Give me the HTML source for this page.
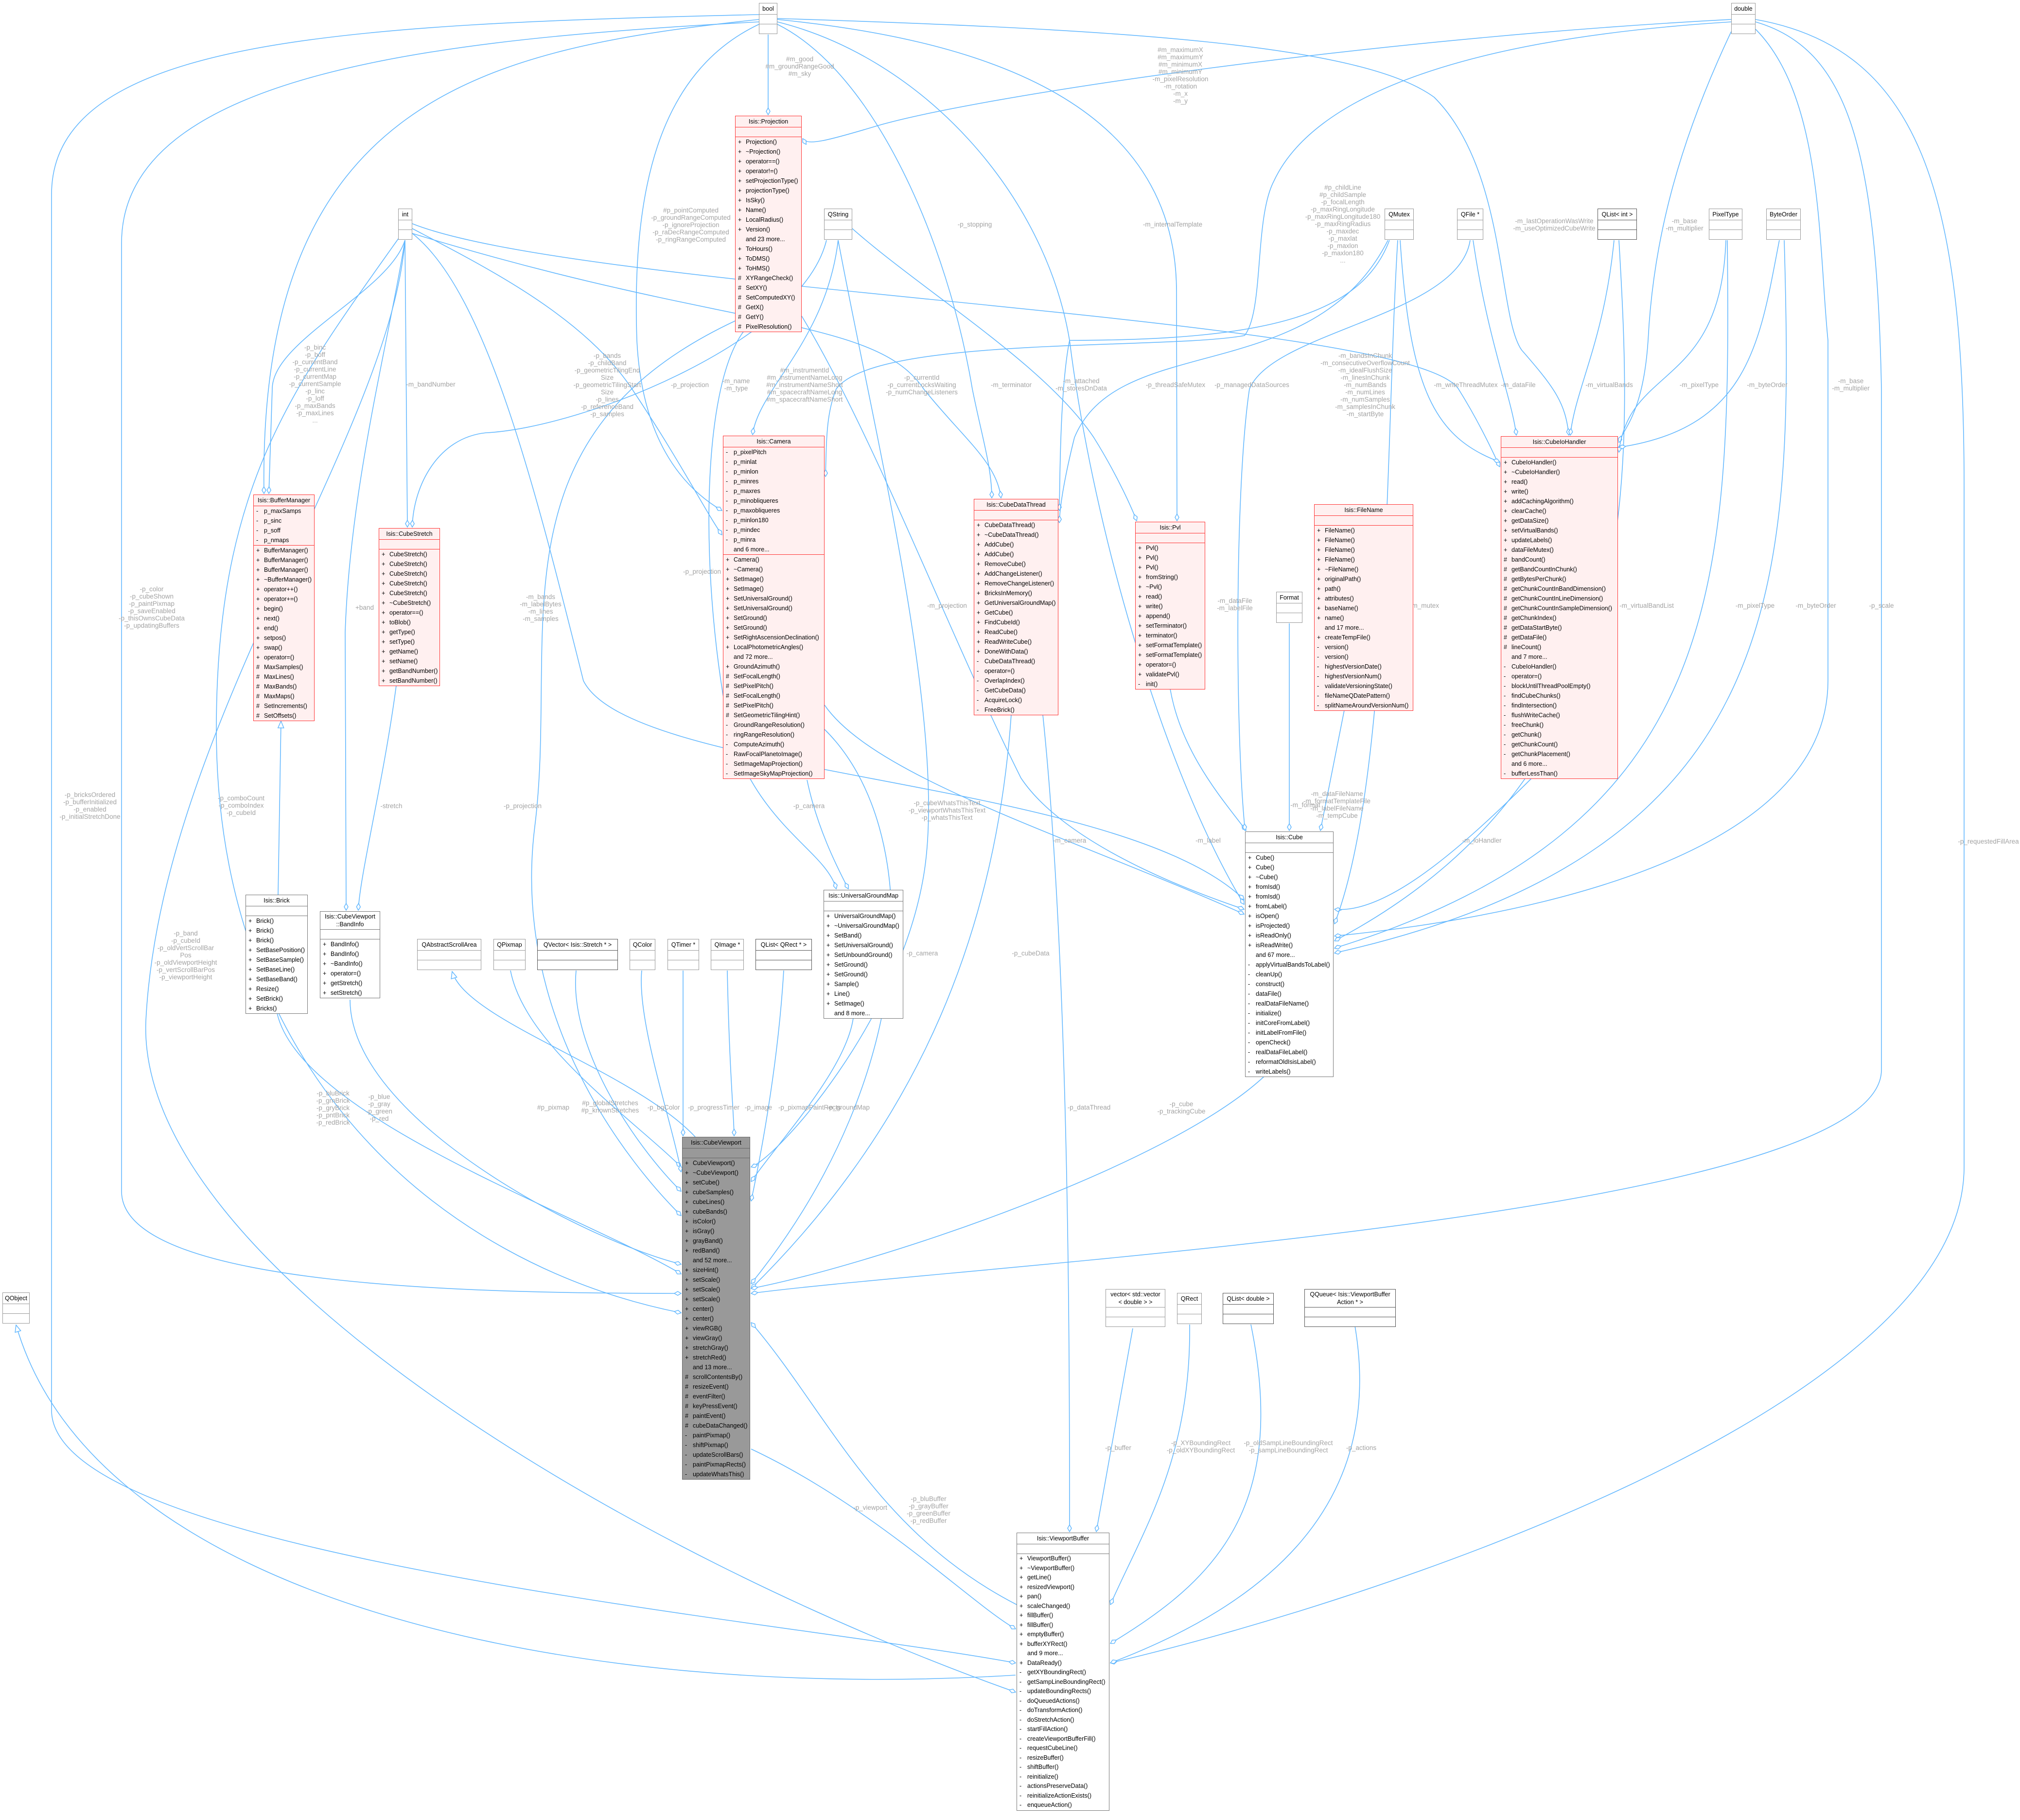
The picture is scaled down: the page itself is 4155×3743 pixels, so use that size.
<!DOCTYPE html>
<html><head><meta charset="utf-8">
<style>
body{margin:0;background:#fff;}
#c{position:relative;width:4155px;height:3743px;overflow:hidden;background:#fff;font-family:"Liberation Sans",sans-serif;}
svg{position:absolute;left:0;top:0;}
.n{position:absolute;box-sizing:border-box;border:1.5px solid #999;background:#fff;font-size:12.5px;color:#000;}
.n .t{text-align:center;line-height:22px;min-height:22px;border-bottom:1.5px solid #999;white-space:nowrap;}
.n .t2{line-height:16px;padding:2px 0;}
.n .s{min-height:19px;border-bottom:1.5px solid #999;}
.n .s:last-child{border-bottom:none;}
.n .s div{line-height:20px;height:20px;white-space:nowrap;overflow:hidden;padding-left:5px;}
.n .s i{font-style:normal;display:inline-block;width:16px;}
.r{border-color:#f33;background:#fff0f0;}
.r .t,.r .s{border-color:#f33;}
.d{border-color:#555;}
.d .t,.d .s{border-color:#555;}
.g{border-color:#666;background:#999;}
.g .t,.g .s{border-color:#666;}
.vb .s div{height:19.5px;line-height:19.5px;}
text{font-family:"Liberation Sans",sans-serif;font-size:13.5px;fill:#a3a3a3;}
</style></head><body><div id="c">
<svg width="4155" height="3743" viewBox="0 0 4155 3743">
<defs>
<marker id="dm" markerUnits="userSpaceOnUse" markerWidth="16" markerHeight="10" refX="15" refY="5" orient="auto"><path d="M1,5 L8,1 L15,5 L8,9 Z" fill="#fff" stroke="#63b8ff" stroke-width="1.5"/></marker>
<marker id="tr" markerUnits="userSpaceOnUse" markerWidth="16" markerHeight="14" refX="15" refY="7" orient="auto"><path d="M1,1 L15,7 L1,13 Z" fill="#fff" stroke="#63b8ff" stroke-width="1.5"/></marker>
</defs>
<g fill="none" stroke="#63b8ff" stroke-width="1.6" marker-end="url(#dm)">
<path d="M1580,71 L1580,236"/>
<path d="M1599,40 C2000,80 2420,200 2420,600 L2421,1071"/>
<path d="M1599,45 C1900,120 2150,400 2200,700 C2250,1100 2400,1600 2559,1860"/>
<path d="M1599,50 C1800,150 1950,500 2000,800 C2020,900 2040,960 2040,1024"/>
<path d="M1599,38 C2300,60 2800,90 2950,200 C3100,350 3080,650 3130,720 C3200,800 3220,830 3227,895"/>
<path d="M1561,45 C900,80 250,150 250,500 L250,2450 C250,2650 1000,2660 1401,2660"/>
<path d="M1561,30 C700,50 106,80 106,400 L106,2900 C106,3200 1600,3330 2089,3420"/>
<path d="M1561,50 C1350,150 1300,400 1310,700 C1320,900 1400,1000 1485,1050"/>
<path d="M1561,40 C1000,100 530,200 543,1015"/>
<path d="M3561,40 C2800,80 2000,200 1800,260 C1700,290 1660,300 1651,285"/>
<path d="M3561,45 C3000,80 2700,200 2620,373 C2580,450 2600,640 2560,690 C2400,720 1800,690 1720,800 C1700,850 1700,900 1698,980"/>
<path d="M3561,65 C3450,300 3400,500 3390,700 C3380,850 3340,880 3330,910"/>
<path d="M3611,60 C3750,200 3740,500 3760,700 L3760,1400 C3760,1800 3000,1900 2745,1925"/>
<path d="M3611,45 C3800,100 3860,300 3870,800 L3870,2200 C3870,2500 2000,2600 1545,2660"/>
<path d="M3611,40 C3950,100 4040,400 4040,1000 L4040,2400 C4040,2900 2800,3300 2284,3420"/>
<path d="M833,494 C800,600 560,700 560,800 L553,1015"/>
<path d="M833,494 L838,1084"/>
<path d="M1700,494 C1650,700 1200,880 1000,890 C900,900 850,1000 848,1084"/>
<path d="M833,494 C800,700 720,1000 710,1300 L712,1872"/>
<path d="M815,1410 C790,1600 740,1800 737,1872"/>
<path d="M848,470 C1000,550 1200,650 1300,800 C1400,950 1450,1050 1485,1100"/>
<path d="M848,480 C1000,600 1100,1000 1200,1400 C1300,1600 2300,1600 2559,1850"/>
<path d="M848,460 C1200,600 2900,650 3000,800 C3050,880 3080,950 3085,960"/>
<path d="M848,480 C1500,680 1800,650 1900,800 C1980,900 2050,950 2059,1024"/>
<path d="M833,494 C800,900 330,1500 300,2100 C280,2600 1300,3200 2089,3480"/>
<path d="M820,490 C600,800 445,1000 445,1500 C445,2200 900,2600 1401,2700"/>
<path d="M1724,494 C1700,700 1560,800 1548,894"/>
<path d="M1753,470 C1900,600 2150,750 2250,900 C2300,980 2330,1050 2338,1071"/>
<path d="M1724,494 C1800,900 1950,1500 1900,1800 C1850,2100 1600,2380 1545,2400"/>
<path d="M1530,681 C1440,800 1440,1200 1500,1500 C1560,1700 1700,1750 1720,1828"/>
<path d="M1512,660 C1000,900 1150,1300 1100,1700 C1050,2100 1300,2400 1401,2500"/>
<path d="M1649,650 C1800,900 1950,1300 2100,1600 C2200,1750 2500,1850 2559,1870"/>
<path d="M1696,1450 C1800,1600 2200,1720 2559,1880"/>
<path d="M1660,1604 C1680,1700 1720,1780 1745,1828"/>
<path d="M1696,1500 C1900,1700 1900,2200 1545,2640"/>
<path d="M2080,1470 C2050,1900 1900,2300 1545,2650"/>
<path d="M2145,1470 C2200,2000 2200,2800 2200,3150"/>
<path d="M1755,2094 C1740,2200 1600,2350 1545,2430"/>
<path d="M2600,2214 C2400,2400 1800,2600 1545,2650"/>
<path d="M2407,1417 C2430,1550 2520,1650 2563,1708"/>
<path d="M2652,1282 L2652,1708"/>
<path d="M2765,1461 L2716,1708"/>
<path d="M3150,1601 C3000,1750 2850,1880 2745,1870"/>
<path d="M2880,494 C2900,800 2950,900 3085,950"/>
<path d="M2875,494 C2850,900 2860,1600 2745,1900"/>
<path d="M2858,494 C2800,650 2600,700 2200,700 C2180,800 2180,1000 2179,1050"/>
<path d="M2855,494 C2700,800 2300,680 2210,900 C2190,980 2180,1040 2179,1075"/>
<path d="M3030,494 C3060,700 3110,820 3119,895"/>
<path d="M3024,494 C3000,650 2620,680 2570,800 C2540,1000 2540,1500 2561,1708"/>
<path d="M3320,494 C3300,700 3240,800 3230,895"/>
<path d="M3330,494 C3360,1000 3380,1600 2745,1935"/>
<path d="M3550,494 C3540,800 3350,750 3330,930"/>
<path d="M3553,494 C3560,1200 3550,1700 2745,1950"/>
<path d="M3660,494 C3620,700 3600,880 3330,920"/>
<path d="M3670,494 C3690,1200 3680,1750 2745,1960"/>
<path d="M1050,1996 C1080,2150 1300,2300 1401,2400"/>
<path d="M1185,1996 C1170,2150 1300,2350 1401,2450"/>
<path d="M1320,1996 C1310,2100 1380,2300 1401,2410"/>
<path d="M1405,1996 L1405,2336"/>
<path d="M1496,1996 C1500,2200 1510,2300 1510,2336"/>
<path d="M1612,1996 C1600,2200 1560,2400 1545,2470"/>
<path d="M570,2084 C620,2300 1200,2500 1401,2620"/>
<path d="M720,2056 C720,2300 1200,2550 1401,2600"/>
<path d="M1545,2980 C1800,3100 2000,3300 2089,3350"/>
<path d="M2091,3300 C1800,3150 1700,2900 1545,2720"/>
<path d="M2330,2732 L2255,3150"/>
<path d="M2447,2724 C2450,3000 2350,3150 2284,3300"/>
<path d="M2573,2724 C2650,3100 2500,3250 2284,3380"/>
<path d="M2787,2727 C2850,3100 2600,3300 2284,3420"/>
</g>
<g fill="none" stroke="#63b8ff" stroke-width="1.6" marker-end="url(#tr)">
<path d="M572,1840 L578,1483"/>
<path d="M1430,2338 C1300,2200 960,2100 930,1998"/>
<path d="M2089,3445 C1200,3500 200,3300 33,2725"/>
</g>
<g text-anchor="middle">
<text x="1645" y="126">#m_good</text><text x="1645" y="141">#m_groundRangeGood</text><text x="1645" y="156">#m_sky</text>
<text x="2428" y="107">#m_maximumX</text><text x="2428" y="122">#m_maximumY</text><text x="2428" y="137">#m_minimumX</text><text x="2428" y="152">#m_minimumY</text><text x="2428" y="167">-m_pixelResolution</text><text x="2428" y="182">-m_rotation</text><text x="2428" y="197">-m_x</text><text x="2428" y="212">-m_y</text>
<text x="1421" y="437">#p_pointComputed</text><text x="1421" y="452">-p_groundRangeComputed</text><text x="1421" y="467">-p_ignoreProjection</text><text x="1421" y="482">-p_raDecRangeComputed</text><text x="1421" y="497">-p_ringRangeComputed</text>
<text x="2005" y="466">-p_stopping</text>
<text x="2412" y="466">-m_internalTemplate</text>
<text x="2762" y="390">#p_childLine</text><text x="2762" y="405">#p_childSample</text><text x="2762" y="420">-p_focalLength</text><text x="2762" y="435">-p_maxRingLongitude</text><text x="2762" y="450">-p_maxRingLongitude180</text><text x="2762" y="465">-p_maxRingRadius</text><text x="2762" y="480">-p_maxdec</text><text x="2762" y="495">-p_maxlat</text><text x="2762" y="510">-p_maxlon</text><text x="2762" y="525">-p_maxlon180</text><text x="2762" y="540">...</text>
<text x="3197" y="459">-m_lastOperationWasWrite</text><text x="3197" y="474">-m_useOptimizedCubeWrite</text>
<text x="3465" y="459">-m_base</text><text x="3465" y="474">-m_multiplier</text>
<text x="648" y="719">-p_binc</text><text x="648" y="734">-p_boff</text><text x="648" y="749">-p_currentBand</text><text x="648" y="764">-p_currentLine</text><text x="648" y="779">-p_currentMap</text><text x="648" y="794">-p_currentSample</text><text x="648" y="809">-p_linc</text><text x="648" y="824">-p_loff</text><text x="648" y="839">-p_maxBands</text><text x="648" y="854">-p_maxLines</text><text x="648" y="869">...</text>
<text x="886" y="795">-m_bandNumber</text>
<text x="1249" y="736">-p_bands</text><text x="1249" y="751">-p_childBand</text><text x="1249" y="766">-p_geometricTilingEnd</text><text x="1249" y="781">Size</text><text x="1249" y="796">-p_geometricTilingStart</text><text x="1249" y="811">Size</text><text x="1249" y="826">-p_lines</text><text x="1249" y="841">-p_referenceBand</text><text x="1249" y="856">-p_samples</text>
<text x="1419" y="796">-p_projection</text>
<text x="1514" y="788">-m_name</text><text x="1514" y="803">-m_type</text>
<text x="1655" y="766">#m_instrumentId</text><text x="1655" y="781">#m_instrumentNameLong</text><text x="1655" y="796">#m_instrumentNameShort</text><text x="1655" y="811">#m_spacecraftNameLong</text><text x="1655" y="826">#m_spacecraftNameShort</text>
<text x="1896" y="781">-p_currentId</text><text x="1896" y="796">-p_currentLocksWaiting</text><text x="1896" y="811">-p_numChangeListeners</text>
<text x="2080" y="796">-m_terminator</text>
<text x="2224" y="788">-m_attached</text><text x="2224" y="803">-m_storesDnData</text>
<text x="2418" y="796">-p_threadSafeMutex</text>
<text x="2575" y="796">-p_managedDataSources</text>
<text x="2808" y="736">-m_bandsInChunk</text><text x="2808" y="751">-m_consecutiveOverflowCount</text><text x="2808" y="766">-m_idealFlushSize</text><text x="2808" y="781">-m_linesInChunk</text><text x="2808" y="796">-m_numBands</text><text x="2808" y="811">-m_numLines</text><text x="2808" y="826">-m_numSamples</text><text x="2808" y="841">-m_samplesInChunk</text><text x="2808" y="856">-m_startByte</text>
<text x="3015" y="796">-m_writeThreadMutex</text>
<text x="3123" y="796">-m_dataFile</text>
<text x="3310" y="796">-m_virtualBands</text>
<text x="3495" y="796">-m_pixelType</text>
<text x="3635" y="796">-m_byteOrder</text>
<text x="3807" y="788">-m_base</text><text x="3807" y="803">-m_multiplier</text>
<text x="312" y="1216">-p_color</text><text x="312" y="1231">-p_cubeShown</text><text x="312" y="1246">-p_paintPixmap</text><text x="312" y="1261">-p_saveEnabled</text><text x="312" y="1276">-p_thisOwnsCubeData</text><text x="312" y="1291">-p_updatingBuffers</text>
<text x="750" y="1254">+band</text>
<text x="1112" y="1232">-m_bands</text><text x="1112" y="1247">-m_labelBytes</text><text x="1112" y="1262">-m_lines</text><text x="1112" y="1277">-m_samples</text>
<text x="1444" y="1180">-p_projection</text>
<text x="1948" y="1250">-m_projection</text>
<text x="2540" y="1240">-m_dataFile</text><text x="2540" y="1255">-m_labelFile</text>
<text x="2930" y="1250">-m_mutex</text>
<text x="3387" y="1250">-m_virtualBandList</text>
<text x="3610" y="1250">-m_pixelType</text>
<text x="3735" y="1250">-m_byteOrder</text>
<text x="3870" y="1250">-p_scale</text>
<text x="185" y="1639">-p_bricksOrdered</text><text x="185" y="1654">-p_bufferInitialized</text><text x="185" y="1669">-p_enabled</text><text x="185" y="1684">-p_initialStretchDone</text>
<text x="496" y="1646">-p_comboCount</text><text x="496" y="1661">-p_comboIndex</text><text x="496" y="1676">-p_cubeId</text>
<text x="805" y="1662">-stretch</text>
<text x="1075" y="1662">-p_projection</text>
<text x="1664" y="1662">-p_camera</text>
<text x="1948" y="1656">-p_cubeWhatsThisText</text><text x="1948" y="1671">-p_viewportWhatsThisText</text><text x="1948" y="1686">-p_whatsThisText</text>
<text x="2200" y="1733">-m_camera</text>
<text x="2485" y="1733">-m_label</text>
<text x="2685" y="1660">-m_format</text>
<text x="2750" y="1637">-m_dataFileName</text><text x="2750" y="1652">-m_formatTemplateFile</text><text x="2750" y="1667">-m_labelFileName</text><text x="2750" y="1682">-m_tempCube</text>
<text x="3048" y="1733">-m_ioHandler</text>
<text x="4090" y="1735">-p_requestedFillArea</text>
<text x="382" y="1924">-p_band</text><text x="382" y="1939">-p_cubeId</text><text x="382" y="1954">-p_oldVertScrollBar</text><text x="382" y="1969">Pos</text><text x="382" y="1984">-p_oldViewportHeight</text><text x="382" y="1999">-p_vertScrollBarPos</text><text x="382" y="2014">-p_viewportHeight</text>
<text x="1897" y="1965">-p_camera</text>
<text x="2120" y="1965">-p_cubeData</text>
<text x="685" y="2253">-p_bluBrick</text><text x="685" y="2268">-p_grnBrick</text><text x="685" y="2283">-p_gryBrick</text><text x="685" y="2298">-p_pntBrick</text><text x="685" y="2313">-p_redBrick</text>
<text x="780" y="2260">-p_blue</text><text x="780" y="2275">-p_gray</text><text x="780" y="2290">-p_green</text><text x="780" y="2305">-p_red</text>
<text x="1138" y="2282">#p_pixmap</text>
<text x="1255" y="2273">#p_globalStretches</text><text x="1255" y="2288">#p_knownStretches</text>
<text x="1365" y="2282">-p_bgColor</text>
<text x="1468" y="2282">-p_progressTimer</text>
<text x="1560" y="2282">-p_image</text>
<text x="1665" y="2282">-p_pixmapPaintRects</text>
<text x="1745" y="2282">-p_groundMap</text>
<text x="2240" y="2282">-p_dataThread</text>
<text x="2430" y="2275">-p_cube</text><text x="2430" y="2290">-p_trackingCube</text>
<text x="2300" y="2982">-p_buffer</text>
<text x="2470" y="2972">-p_XYBoundingRect</text><text x="2470" y="2987">-p_oldXYBoundingRect</text>
<text x="2650" y="2972">-p_oldSampLineBoundingRect</text><text x="2650" y="2987">-p_sampLineBoundingRect</text>
<text x="2800" y="2982">-p_actions</text>
<text x="1790" y="3105">-p_viewport</text>
<text x="1910" y="3087">-p_bluBuffer</text><text x="1910" y="3102">-p_grayBuffer</text><text x="1910" y="3117">-p_greenBuffer</text><text x="1910" y="3132">-p_redBuffer</text>
</g>
</svg>

<div class="n" style="left:1561px;top:6px;width:38px"><div class="t">bool</div><div class="s"></div><div class="s"></div></div>
<div class="n" style="left:3561px;top:6px;width:50px"><div class="t">double</div><div class="s"></div><div class="s"></div></div>
<div class="n" style="left:819px;top:429px;width:29px"><div class="t">int</div><div class="s"></div><div class="s"></div></div>
<div class="n" style="left:1695px;top:429px;width:58px"><div class="t">QString</div><div class="s"></div><div class="s"></div></div>
<div class="n" style="left:2848px;top:429px;width:60px"><div class="t">QMutex</div><div class="s"></div><div class="s"></div></div>
<div class="n" style="left:2997px;top:429px;width:54px"><div class="t">QFile *</div><div class="s"></div><div class="s"></div></div>
<div class="n d" style="left:3286px;top:429px;width:81px"><div class="t">QList&lt; int &gt;</div><div class="s"></div><div class="s"></div></div>
<div class="n" style="left:3515px;top:429px;width:69px"><div class="t">PixelType</div><div class="s"></div><div class="s"></div></div>
<div class="n" style="left:3633px;top:429px;width:71px"><div class="t">ByteOrder</div><div class="s"></div><div class="s"></div></div>

<div class="n r" style="left:1512px;top:238px;width:137px"><div class="t">Isis::Projection</div><div class="s"></div><div class="s">
<div><i>+</i>Projection()</div><div><i>+</i>~Projection()</div><div><i>+</i>operator==()</div><div><i>+</i>operator!=()</div><div><i>+</i>setProjectionType()</div><div><i>+</i>projectionType()</div><div><i>+</i>IsSky()</div><div><i>+</i>Name()</div><div><i>+</i>LocalRadius()</div><div><i>+</i>Version()</div><div><i></i>and 23 more...</div><div><i>+</i>ToHours()</div><div><i>+</i>ToDMS()</div><div><i>+</i>ToHMS()</div><div><i>#</i>XYRangeCheck()</div><div><i>#</i>SetXY()</div><div><i>#</i>SetComputedXY()</div><div><i>#</i>GetX()</div><div><i>#</i>GetY()</div><div><i>#</i>PixelResolution()</div></div></div>

<div class="n r" style="left:521px;top:1017px;width:126px"><div class="t">Isis::BufferManager</div><div class="s">
<div><i>-</i>p_maxSamps</div><div><i>-</i>p_sinc</div><div><i>-</i>p_soff</div><div><i>-</i>p_nmaps</div></div><div class="s">
<div><i>+</i>BufferManager()</div><div><i>+</i>BufferManager()</div><div><i>+</i>BufferManager()</div><div><i>+</i>~BufferManager()</div><div><i>+</i>operator++()</div><div><i>+</i>operator+=()</div><div><i>+</i>begin()</div><div><i>+</i>next()</div><div><i>+</i>end()</div><div><i>+</i>setpos()</div><div><i>+</i>swap()</div><div><i>+</i>operator=()</div><div><i>#</i>MaxSamples()</div><div><i>#</i>MaxLines()</div><div><i>#</i>MaxBands()</div><div><i>#</i>MaxMaps()</div><div><i>#</i>SetIncrements()</div><div><i>#</i>SetOffsets()</div></div></div>

<div class="n r" style="left:779px;top:1086px;width:126px"><div class="t">Isis::CubeStretch</div><div class="s"></div><div class="s">
<div><i>+</i>CubeStretch()</div><div><i>+</i>CubeStretch()</div><div><i>+</i>CubeStretch()</div><div><i>+</i>CubeStretch()</div><div><i>+</i>CubeStretch()</div><div><i>+</i>~CubeStretch()</div><div><i>+</i>operator==()</div><div><i>+</i>toBlob()</div><div><i>+</i>getType()</div><div><i>+</i>setType()</div><div><i>+</i>getName()</div><div><i>+</i>setName()</div><div><i>+</i>getBandNumber()</div><div><i>+</i>setBandNumber()</div></div></div>

<div class="n r" style="left:1487px;top:896px;width:209px"><div class="t">Isis::Camera</div><div class="s">
<div><i>-</i>p_pixelPitch</div><div><i>-</i>p_minlat</div><div><i>-</i>p_minlon</div><div><i>-</i>p_minres</div><div><i>-</i>p_maxres</div><div><i>-</i>p_minobliqueres</div><div><i>-</i>p_maxobliqueres</div><div><i>-</i>p_minlon180</div><div><i>-</i>p_mindec</div><div><i>-</i>p_minra</div><div><i></i>and 6 more...</div></div><div class="s">
<div><i>+</i>Camera()</div><div><i>+</i>~Camera()</div><div><i>+</i>SetImage()</div><div><i>+</i>SetImage()</div><div><i>+</i>SetUniversalGround()</div><div><i>+</i>SetUniversalGround()</div><div><i>+</i>SetGround()</div><div><i>+</i>SetGround()</div><div><i>+</i>SetRightAscensionDeclination()</div><div><i>+</i>LocalPhotometricAngles()</div><div><i></i>and 72 more...</div><div><i>+</i>GroundAzimuth()</div><div><i>#</i>SetFocalLength()</div><div><i>#</i>SetPixelPitch()</div><div><i>#</i>SetFocalLength()</div><div><i>#</i>SetPixelPitch()</div><div><i>#</i>SetGeometricTilingHint()</div><div><i>-</i>GroundRangeResolution()</div><div><i>-</i>ringRangeResolution()</div><div><i>-</i>ComputeAzimuth()</div><div><i>-</i>RawFocalPlanetoImage()</div><div><i>-</i>SetImageMapProjection()</div><div><i>-</i>SetImageSkyMapProjection()</div></div></div>

<div class="n r" style="left:2003px;top:1026px;width:174px"><div class="t">Isis::CubeDataThread</div><div class="s"></div><div class="s">
<div><i>+</i>CubeDataThread()</div><div><i>+</i>~CubeDataThread()</div><div><i>+</i>AddCube()</div><div><i>+</i>AddCube()</div><div><i>+</i>RemoveCube()</div><div><i>+</i>AddChangeListener()</div><div><i>+</i>RemoveChangeListener()</div><div><i>+</i>BricksInMemory()</div><div><i>+</i>GetUniversalGroundMap()</div><div><i>+</i>GetCube()</div><div><i>+</i>FindCubeId()</div><div><i>+</i>ReadCube()</div><div><i>+</i>ReadWriteCube()</div><div><i>+</i>DoneWithData()</div><div><i>-</i>CubeDataThread()</div><div><i>-</i>operator=()</div><div><i>-</i>OverlapIndex()</div><div><i>-</i>GetCubeData()</div><div><i>-</i>AcquireLock()</div><div><i>-</i>FreeBrick()</div></div></div>

<div class="n r" style="left:2335px;top:1073px;width:144px"><div class="t">Isis::Pvl</div><div class="s"></div><div class="s">
<div><i>+</i>Pvl()</div><div><i>+</i>Pvl()</div><div><i>+</i>Pvl()</div><div><i>+</i>fromString()</div><div><i>+</i>~Pvl()</div><div><i>+</i>read()</div><div><i>+</i>write()</div><div><i>+</i>append()</div><div><i>+</i>setTerminator()</div><div><i>+</i>terminator()</div><div><i>+</i>setFormatTemplate()</div><div><i>+</i>setFormatTemplate()</div><div><i>+</i>operator=()</div><div><i>+</i>validatePvl()</div><div><i>-</i>init()</div></div></div>

<div class="n r" style="left:2703px;top:1037px;width:204px"><div class="t">Isis::FileName</div><div class="s"></div><div class="s">
<div><i>+</i>FileName()</div><div><i>+</i>FileName()</div><div><i>+</i>FileName()</div><div><i>+</i>FileName()</div><div><i>+</i>~FileName()</div><div><i>+</i>originalPath()</div><div><i>+</i>path()</div><div><i>+</i>attributes()</div><div><i>+</i>baseName()</div><div><i>+</i>name()</div><div><i></i>and 17 more...</div><div><i>+</i>createTempFile()</div><div><i>-</i>version()</div><div><i>-</i>version()</div><div><i>-</i>highestVersionDate()</div><div><i>-</i>highestVersionNum()</div><div><i>-</i>validateVersioningState()</div><div><i>-</i>fileNameQDatePattern()</div><div><i>-</i>splitNameAroundVersionNum()</div></div></div>

<div class="n" style="left:2625px;top:1217px;width:54px"><div class="t">Format</div><div class="s"></div><div class="s"></div></div>

<div class="n r" style="left:3087px;top:897px;width:241px"><div class="t">Isis::CubeIoHandler</div><div class="s"></div><div class="s">
<div><i>+</i>CubeIoHandler()</div><div><i>+</i>~CubeIoHandler()</div><div><i>+</i>read()</div><div><i>+</i>write()</div><div><i>+</i>addCachingAlgorithm()</div><div><i>+</i>clearCache()</div><div><i>+</i>getDataSize()</div><div><i>+</i>setVirtualBands()</div><div><i>+</i>updateLabels()</div><div><i>+</i>dataFileMutex()</div><div><i>#</i>bandCount()</div><div><i>#</i>getBandCountInChunk()</div><div><i>#</i>getBytesPerChunk()</div><div><i>#</i>getChunkCountInBandDimension()</div><div><i>#</i>getChunkCountInLineDimension()</div><div><i>#</i>getChunkCountInSampleDimension()</div><div><i>#</i>getChunkIndex()</div><div><i>#</i>getDataStartByte()</div><div><i>#</i>getDataFile()</div><div><i>#</i>lineCount()</div><div><i></i>and 7 more...</div><div><i>-</i>CubeIoHandler()</div><div><i>-</i>operator=()</div><div><i>-</i>blockUntilThreadPoolEmpty()</div><div><i>-</i>findCubeChunks()</div><div><i>-</i>findIntersection()</div><div><i>-</i>flushWriteCache()</div><div><i>-</i>freeChunk()</div><div><i>-</i>getChunk()</div><div><i>-</i>getChunkCount()</div><div><i>-</i>getChunkPlacement()</div><div><i></i>and 6 more...</div><div><i>-</i>bufferLessThan()</div></div></div>

<div class="n" style="left:2561px;top:1710px;width:182px;border-color:#777"><div class="t" style="border-color:#777">Isis::Cube</div><div class="s" style="border-color:#777"></div><div class="s">
<div><i>+</i>Cube()</div><div><i>+</i>Cube()</div><div><i>+</i>~Cube()</div><div><i>+</i>fromIsd()</div><div><i>+</i>fromIsd()</div><div><i>+</i>fromLabel()</div><div><i>+</i>isOpen()</div><div><i>+</i>isProjected()</div><div><i>+</i>isReadOnly()</div><div><i>+</i>isReadWrite()</div><div><i></i>and 67 more...</div><div><i>-</i>applyVirtualBandsToLabel()</div><div><i>-</i>cleanUp()</div><div><i>-</i>construct()</div><div><i>-</i>dataFile()</div><div><i>-</i>realDataFileName()</div><div><i>-</i>initialize()</div><div><i>-</i>initCoreFromLabel()</div><div><i>-</i>initLabelFromFile()</div><div><i>-</i>openCheck()</div><div><i>-</i>realDataFileLabel()</div><div><i>-</i>reformatOldIsisLabel()</div><div><i>-</i>writeLabels()</div></div></div>

<div class="n" style="left:505px;top:1840px;width:128px;border-color:#777"><div class="t" style="border-color:#777">Isis::Brick</div><div class="s" style="border-color:#777"></div><div class="s">
<div><i>+</i>Brick()</div><div><i>+</i>Brick()</div><div><i>+</i>Brick()</div><div><i>+</i>SetBasePosition()</div><div><i>+</i>SetBaseSample()</div><div><i>+</i>SetBaseLine()</div><div><i>+</i>SetBaseBand()</div><div><i>+</i>Resize()</div><div><i>+</i>SetBrick()</div><div><i>+</i>Bricks()</div></div></div>

<div class="n" style="left:658px;top:1874px;width:124px;border-color:#777"><div class="t t2" style="border-color:#777">Isis::CubeViewport<br>::BandInfo</div><div class="s" style="border-color:#777"></div><div class="s">
<div><i>+</i>BandInfo()</div><div><i>+</i>BandInfo()</div><div><i>+</i>~BandInfo()</div><div><i>+</i>operator=()</div><div><i>+</i>getStretch()</div><div><i>+</i>setStretch()</div></div></div>

<div class="n" style="left:858px;top:1931px;width:132px"><div class="t">QAbstractScrollArea</div><div class="s"></div><div class="s"></div></div>
<div class="n" style="left:1015px;top:1931px;width:66px"><div class="t">QPixmap</div><div class="s"></div><div class="s"></div></div>
<div class="n d" style="left:1105px;top:1931px;width:166px"><div class="t">QVector&lt; Isis::Stretch * &gt;</div><div class="s"></div><div class="s"></div></div>
<div class="n" style="left:1295px;top:1931px;width:53px"><div class="t">QColor</div><div class="s"></div><div class="s"></div></div>
<div class="n" style="left:1373px;top:1931px;width:65px"><div class="t">QTimer *</div><div class="s"></div><div class="s"></div></div>
<div class="n" style="left:1462px;top:1931px;width:68px"><div class="t">QImage *</div><div class="s"></div><div class="s"></div></div>
<div class="n d" style="left:1554px;top:1931px;width:116px"><div class="t">QList&lt; QRect * &gt;</div><div class="s"></div><div class="s"></div></div>

<div class="n" style="left:1694px;top:1830px;width:164px;border-color:#777"><div class="t" style="border-color:#777">Isis::UniversalGroundMap</div><div class="s" style="border-color:#777"></div><div class="s">
<div><i>+</i>UniversalGroundMap()</div><div><i>+</i>~UniversalGroundMap()</div><div><i>+</i>SetBand()</div><div><i>+</i>SetUniversalGround()</div><div><i>+</i>SetUnboundGround()</div><div><i>+</i>SetGround()</div><div><i>+</i>SetGround()</div><div><i>+</i>Sample()</div><div><i>+</i>Line()</div><div><i>+</i>SetImage()</div><div><i></i>and 8 more...</div></div></div>

<div class="n g" style="left:1403px;top:2338px;width:140px"><div class="t">Isis::CubeViewport</div><div class="s"></div><div class="s">
<div><i>+</i>CubeViewport()</div><div><i>+</i>~CubeViewport()</div><div><i>+</i>setCube()</div><div><i>+</i>cubeSamples()</div><div><i>+</i>cubeLines()</div><div><i>+</i>cubeBands()</div><div><i>+</i>isColor()</div><div><i>+</i>isGray()</div><div><i>+</i>grayBand()</div><div><i>+</i>redBand()</div><div><i></i>and 52 more...</div><div><i>+</i>sizeHint()</div><div><i>+</i>setScale()</div><div><i>+</i>setScale()</div><div><i>+</i>setScale()</div><div><i>+</i>center()</div><div><i>+</i>center()</div><div><i>+</i>viewRGB()</div><div><i>+</i>viewGray()</div><div><i>+</i>stretchGray()</div><div><i>+</i>stretchRed()</div><div><i></i>and 13 more...</div><div><i>#</i>scrollContentsBy()</div><div><i>#</i>resizeEvent()</div><div><i>#</i>eventFilter()</div><div><i>#</i>keyPressEvent()</div><div><i>#</i>paintEvent()</div><div><i>#</i>cubeDataChanged()</div><div><i>-</i>paintPixmap()</div><div><i>-</i>shiftPixmap()</div><div><i>-</i>updateScrollBars()</div><div><i>-</i>paintPixmapRects()</div><div><i>-</i>updateWhatsThis()</div></div></div>

<div class="n" style="left:5px;top:2658px;width:56px"><div class="t">QObject</div><div class="s"></div><div class="s"></div></div>
<div class="n" style="left:2274px;top:2651px;width:123px"><div class="t t2">vector&lt; std::vector<br>&lt; double &gt; &gt;</div><div class="s"></div><div class="s"></div></div>
<div class="n" style="left:2421px;top:2659px;width:51px"><div class="t">QRect</div><div class="s"></div><div class="s"></div></div>
<div class="n d" style="left:2515px;top:2659px;width:105px"><div class="t">QList&lt; double &gt;</div><div class="s"></div><div class="s"></div></div>
<div class="n d" style="left:2683px;top:2651px;width:188px"><div class="t t2">QQueue&lt; Isis::ViewportBuffer<br>Action * &gt;</div><div class="s"></div><div class="s"></div></div>

<div class="n vb" style="left:2091px;top:3152px;width:191px;border-color:#777"><div class="t" style="border-color:#777">Isis::ViewportBuffer</div><div class="s" style="border-color:#777"></div><div class="s">
<div><i>+</i>ViewportBuffer()</div><div><i>+</i>~ViewportBuffer()</div><div><i>+</i>getLine()</div><div><i>+</i>resizedViewport()</div><div><i>+</i>pan()</div><div><i>+</i>scaleChanged()</div><div><i>+</i>fillBuffer()</div><div><i>+</i>fillBuffer()</div><div><i>+</i>emptyBuffer()</div><div><i>+</i>bufferXYRect()</div><div><i></i>and 9 more...</div><div><i>+</i>DataReady()</div><div><i>-</i>getXYBoundingRect()</div><div><i>-</i>getSampLineBoundingRect()</div><div><i>-</i>updateBoundingRects()</div><div><i>-</i>doQueuedActions()</div><div><i>-</i>doTransformAction()</div><div><i>-</i>doStretchAction()</div><div><i>-</i>startFillAction()</div><div><i>-</i>createViewportBufferFill()</div><div><i>-</i>requestCubeLine()</div><div><i>-</i>resizeBuffer()</div><div><i>-</i>shiftBuffer()</div><div><i>-</i>reinitialize()</div><div><i>-</i>actionsPreserveData()</div><div><i>-</i>reinitializeActionExists()</div><div><i>-</i>enqueueAction()</div></div></div>
</div></body></html>
